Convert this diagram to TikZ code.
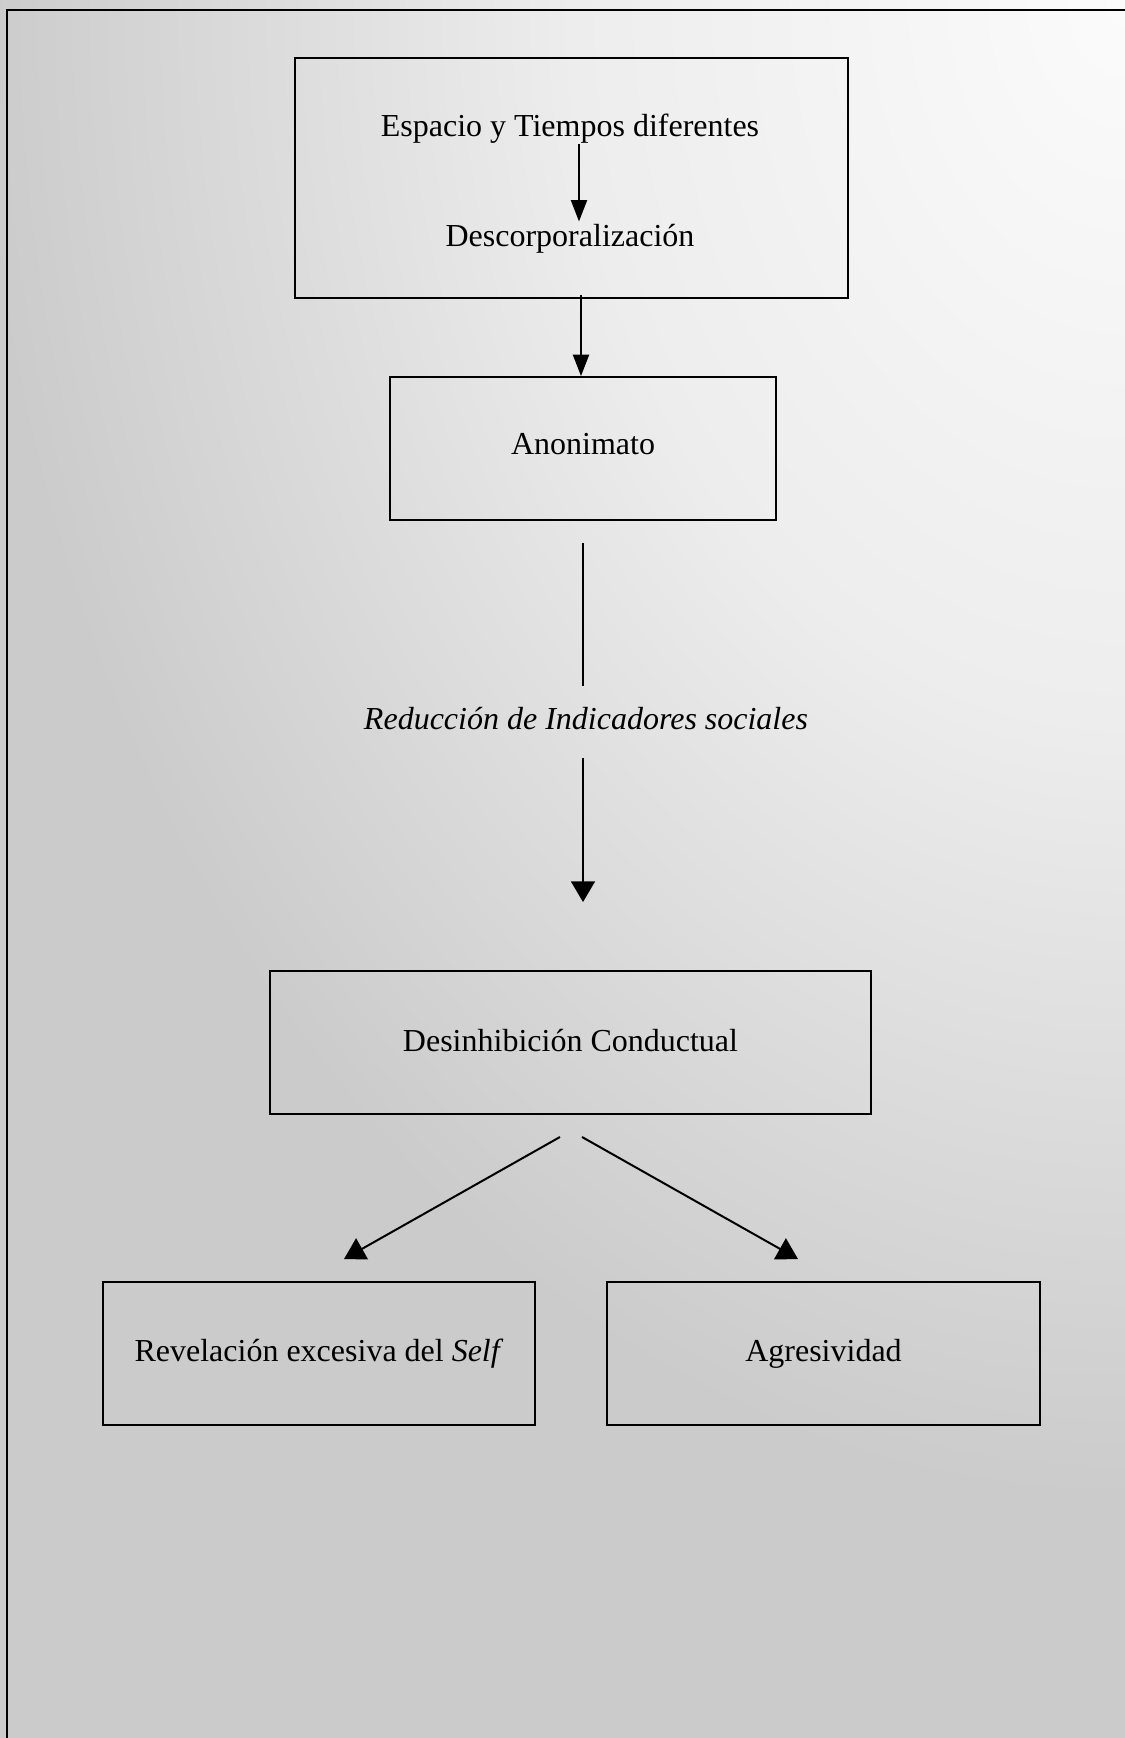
\documentclass[tikz,border=0pt]{standalone}
\usepackage{fontspec}
\setmainfont{Liberation Serif}
\usetikzlibrary{arrows.meta,positioning,calc}
\definecolor{fondoA}{HTML}{FBFBFB}
\definecolor{fondoB}{HTML}{EDEDED}
\definecolor{fondoC}{HTML}{CBCBCB}
\pgfdeclareradialshading{fondo}{\pgfpoint{0bp}{0bp}}{color(0bp)=(fondoA); color(12bp)=(fondoB); color(25bp)=(fondoC); color(50bp)=(fondoC)}
\tikzset{
  caja/.style={rectangle, draw=black, line width=0.75pt, minimum width=#1, minimum height=53.6pt,
               inner sep=0pt, align=center, font=\fontsize{12}{14}\selectfont},
  texto/.style={inner sep=0pt, font=\fontsize{12}{14}\selectfont},
  flecha/.style={-{Triangle[width=6pt,length=8pt]}, line width=0.75pt},
  flechaG/.style={-{Triangle[width=9pt,length=7.8pt]}, line width=0.75pt},
  linea/.style={line width=0.75pt},
}

\begin{document}
\begin{tikzpicture}[x=0.375pt, y=-0.375pt]
        \useasboundingbox (0,0) rectangle (1125,1738);
        % fondo degradado y marco
        \begin{scope}
          \clip (0,0) rectangle (1125,1738);
          \fill[fondoC] (0,0) rectangle (1125,1738);
          \shade[shading=fondo] (1125,0) ellipse [x radius=1150, y radius=1500];
        \end{scope}
        \draw[line width=1pt] (7,1745) -- (7,10) -- (1130,10);

        \node[caja=207.4pt, minimum height=90pt] (marco) at (571.5,178) {};
        \node[texto] (esp) at (570,128.5) {Espacio y Tiempos diferentes};
        \node[texto] (desc) at (570,238.5) {Descorporalización};
        \node[caja=144.75pt, text depth=3.5pt] (anon) at (583,448.5) {Anonimato};
        \node[texto, font={\fontsize{12}{14}\selectfont\itshape}] (red) at (586,719)
          {Reducción de Indicadores sociales};
        \node[caja=225.4pt, text depth=1.5pt] (desinh) at (570.5,1042.5) {Desinhibición Conductual};
        \node[caja=162pt] (rev) at (319,1353.5) {Revelación excesiva del \textit{Self}};
        \node[caja=162.4pt] (agr) at (823.5,1353.5) {Agresividad};

        \draw[flecha] ($(esp.south)+(9,0)$) -- ($(desc.north)+(9,-2)$);
        \draw[flecha] ($(marco.south)+(9.5,-4)$) -- ($(anon.north)+(-2,0)$);
        \draw[linea] ($(anon.south)+(0,22)$) -- ($(anon.south |- red.north)+(0,-21)$);
        \draw[flechaG] ($(red.south -| anon.south)+(0,27)$) -- ($(desinh.north -| anon.south)+(0,-68)$);
        \draw[flechaG] ($(desinh.south)+(-10.5,22)$) -- ($(rev.north)+(25,-22)$);
        \draw[flechaG] ($(desinh.south)+(11.5,22)$) -- ($(agr.north)+(-25.5,-22)$);
      \end{tikzpicture}
\end{document}
